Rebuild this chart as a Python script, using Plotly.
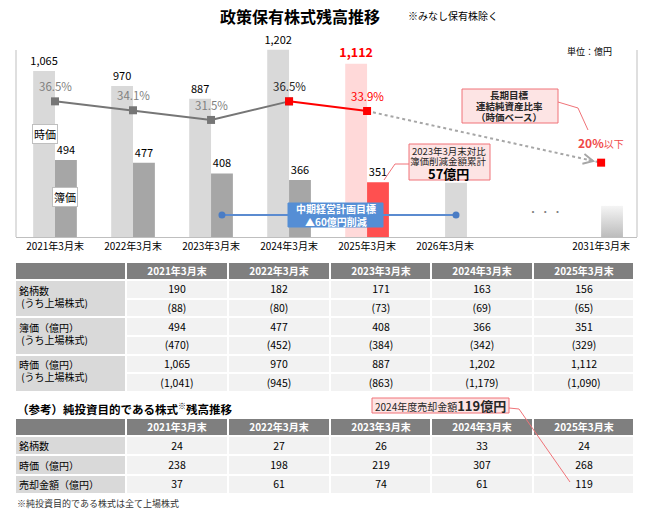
import plotly.graph_objects as go

W, H = 645, 515

# ── chart data ─────────────────────────────────────────────
years = ["2021年3月末", "2022年3月末", "2023年3月末", "2024年3月末", "2025年3月末"]
future_years = ["2026年3月末", "2031年3月末"]
market_value = [1065, 970, 887, 1202, 1112]        # 時価
book_value = [494, 477, 408, 366, 351]             # 簿価
net_asset_ratio = [36.5, 34.1, 31.5, 36.5, 33.9]   # 連結純資産比率（時価）
target_book_2026 = 348
target_book_2031 = 200
target_ratio_2031 = 20

# ── table data ─────────────────────────────────────────────
issues = [190, 182, 171, 163, 156]
issues_listed = [88, 80, 73, 69, 65]
book_listed = [470, 452, 384, 342, 329]
market_listed = [1041, 945, 863, 1179, 1090]
table1_labels = [("銘柄数", " (うち上場株式)"),
                 ("簿価（億円）", " (うち上場株式)"),
                 ("時価（億円）", " (うち上場株式)")]

pure_issues = [24, 27, 26, 33, 24]
pure_market = [238, 198, 219, 307, 268]
pure_sold = [37, 61, 74, 61, 119]
table2_labels = ["銘柄数", "時価（億円）", "売却金額（億円）"]

FONT = "Noto Sans CJK JP, sans-serif"
GRAY_LIGHT = "#d9d9d9"
GRAY_DARK = "#a6a6a6"
RED = "#ff0000"
PINK_FILL = "#fde4e4"
PINK_LINE = "#f07378"
BLUE = "#558ed5"
FRAME = "#bfbfbf"

BAR_W = 0.28
idx = list(range(len(years)))
idx_2026 = 5
idx_2031 = 7
line_level = 141   # height of the mid-term target connector (primary axis units)


def px(x):
    return x / W


def py(y):
    return 1 - y / H


fig = go.Figure()

# 時価 bars
fig.add_trace(go.Bar(
    x=idx, y=market_value, width=BAR_W, offset=-BAR_W,
    marker=dict(color=[GRAY_LIGHT] * 4 + ["#ffd9d9"], line_width=0),
    text=[f"{v:,}" for v in market_value[:-1]] + [f"<b>{market_value[-1]:,}</b>"],
    textposition="outside", constraintext="none",
    textfont=dict(color=["#000"] * 4 + [RED], size=[11] * 4 + [12.5], family=FONT),
    cliponaxis=False, hoverinfo="skip",
))

# 簿価 bars (+ 2026 target)
fig.add_trace(go.Bar(
    x=idx + [idx_2026], y=book_value + [target_book_2026], width=BAR_W, offset=0,
    marker=dict(color=[GRAY_DARK] * 4 + ["#ff5050", GRAY_LIGHT], line_width=0),
    text=[f"{v:,}" for v in book_value] + [""],
    textposition="outside", constraintext="none",
    textfont=dict(color="#000", size=11, family=FONT),
    cliponaxis=False, hoverinfo="skip",
))

# 2031 bar with gradient
fig.add_trace(go.Scatter(
    x=[idx_2031, idx_2031, idx_2031 + BAR_W, idx_2031 + BAR_W],
    y=[0, target_book_2031, target_book_2031, 0],
    mode="lines", line=dict(width=0), fill="toself",
    fillgradient=dict(type="vertical", colorscale=[[0, "#bcbcbc"], [1, "#f5f5f5"]]),
    hoverinfo="skip",
))

# mid-term target connector
fig.add_trace(go.Scatter(
    x=[2 + BAR_W / 2, idx_2026 + BAR_W / 2], y=[line_level, line_level],
    mode="lines+markers", line=dict(color="#5b8bd0", width=2),
    marker=dict(size=7, color="#4a7cc4"), hoverinfo="skip",
))

# ratio line
fig.add_trace(go.Scatter(
    x=[idx[-1], idx_2031], y=[net_asset_ratio[-1], target_ratio_2031], yaxis="y2",
    mode="lines", line=dict(color="#a6a6a6", width=2, dash="dot"), hoverinfo="skip",
))
fig.add_trace(go.Scatter(
    x=idx[:4], y=net_asset_ratio[:4], yaxis="y2",
    mode="lines+markers", line=dict(color="#767676", width=2),
    marker=dict(symbol="square", size=8, color="#767676"), hoverinfo="skip",
))
fig.add_trace(go.Scatter(
    x=idx[3:], y=net_asset_ratio[3:], yaxis="y2",
    mode="lines+markers", line=dict(color=RED, width=2),
    marker=dict(symbol="square", size=8, color=RED), hoverinfo="skip",
))
fig.add_trace(go.Scatter(
    x=[idx_2031], y=[target_ratio_2031], yaxis="y2",
    mode="markers", marker=dict(symbol="square", size=8, color=RED), hoverinfo="skip",
))

# ── tables (cells drawn as single-colour heatmaps) ─────────
col_edges = [0, 111, 213, 315, 416, 518, 619]
header_text = [[""] + [f"<b>{y}</b>" for y in years]]


def cell_block(xa, ya, x_edges, y_edges, text, color, font_color="#000", size=10.5):
    nr, nc = len(y_edges) - 1, len(x_edges) - 1
    fig.add_trace(go.Heatmap(
        x=x_edges, y=y_edges, z=[[0] * nc for _ in range(nr)],
        text=text, texttemplate="%{text}",
        textfont=dict(color=font_color, size=size, family=FONT),
        colorscale=[[0, color], [1, color]], showscale=False,
        xgap=2, ygap=2, hoverinfo="skip", xaxis=xa, yaxis=ya,
    ))


# table 1
rh1 = 112 / 6
t1_rows = [
    [f"{v:,}" for v in issues], [f"({v:,})" for v in issues_listed],
    [f"{v:,}" for v in book_value], [f"({v:,})" for v in book_listed],
    [f"{v:,}" for v in market_value], [f"({v:,})" for v in market_listed],
]
cell_block("x2", "y3", col_edges, [0, 18], header_text, "#7f7f7f", "white", 10)
cell_block("x2", "y3", col_edges[:2], [18 + 2 * k * rh1 for k in range(4)],
           [[""]] * 3, GRAY_LIGHT)
cell_block("x2", "y3", col_edges[1:], [18 + k * rh1 for k in range(7)],
           t1_rows, "#f2f2f2")

# table 2
rh2 = 58 / 3
t2_rows = [[f"{v}" for v in pure_issues], [f"{v}" for v in pure_market],
           [f"{v}" for v in pure_sold]]
cell_block("x3", "y4", col_edges, [0, 18], header_text, "#7f7f7f", "white", 10)
cell_block("x3", "y4", col_edges[:2], [18 + k * rh2 for k in range(4)],
           [[""]] * 3, GRAY_LIGHT)
cell_block("x3", "y4", col_edges[1:], [18 + k * rh2 for k in range(4)],
           t2_rows, "#f2f2f2")

# ── annotations ────────────────────────────────────────────
ann = []
shapes = []


def text_at(x, y, text, size=10, color="#000", xanchor="center", **kw):
    ann.append(dict(x=px(x), y=py(y), xref="paper", yref="paper", text=text,
                    showarrow=False, xanchor=xanchor, yanchor="middle",
                    font=dict(size=size, color=color, family=FONT), **kw))


def box(x0, y0, x1, y1, fill, line=None):
    shapes.append(dict(type="rect", xref="paper", yref="paper",
                       x0=px(x0), x1=px(x1), y0=py(y1), y1=py(y0), fillcolor=fill,
                       line=dict(color=line or fill, width=1), layer="above"))


# chart frame (left / right edges)
for fx in (16, 637):
    shapes.append(dict(type="line", xref="paper", yref="paper", x0=px(fx), x1=px(fx),
                       y0=py(237), y1=py(50), line=dict(color=FRAME, width=1)))

text_at(300, 16, "<b>政策保有株式残高推移</b>", size=16)
text_at(406, 16, "※みなし保有株除く", size=10, xanchor="left")
text_at(614, 51, "単位：億円", size=9, xanchor="right")

# ratio labels
ratio_colors = ["#7f7f7f"] * 3 + ["#262626", RED]
for i, r in enumerate(net_asset_ratio):
    ann.append(dict(x=i, y=r, xref="x", yref="y2", text=f"{r}%", showarrow=False,
                    yshift=15, font=dict(size=11.5, color=ratio_colors[i], family=FONT)))
text_at(601, 143, f"<b>{target_ratio_2031}%</b><span style='font-size:10px'>以下</span>",
        size=12, color="#f04848")

# series tags
text_at(45, 134, "時価", size=11, bgcolor="white", bordercolor=FRAME, borderwidth=1, borderpad=1)
text_at(65, 197, "簿価", size=11, bgcolor="white", bordercolor=FRAME, borderwidth=1, borderpad=1)

text_at(545, 211, "・ ・ ・", size=10, color="#7f7f7f")

# call-out boxes
box(288, 203, 383, 227, BLUE)
text_at(336, 209, "<b>中期経営計画目標</b>", size=10, color="white")
text_at(336, 221, "<b>▲60億円削減</b>", size=10, color="white")

box(409, 144, 490, 180, PINK_FILL, PINK_LINE)
text_at(449, 150.5, "2023年3月末対比", size=9.5, color="#262626")
text_at(449, 160.5, "簿価削減金額累計", size=9.5, color="#262626")
text_at(449, 173, "<b>57億円</b>", size=13, color="#000")

box(462, 89, 558, 123, PINK_FILL, PINK_LINE)
text_at(509, 95, "<b>長期目標</b>", size=9.5, color="#262626")
text_at(509, 106, "<b>連結純資産比率</b>", size=9.5, color="#262626")
text_at(509, 117, "<b>（時価ベース）</b>", size=9.5, color="#262626")

box(372, 398, 509, 413, PINK_FILL, PINK_LINE)
text_at(440, 405.5, "2024年度売却金額<b><span style='font-size:13px'>119億円</span></b>",
        size=10, color="#262626")

# arrow head on the dotted projection
ann.append(dict(x=idx_2031, y=target_ratio_2031, xref="x", yref="y2", text="",
                showarrow=True, ax=-14, ay=-3, arrowhead=5, arrowsize=1.3, arrowwidth=1.5,
                arrowcolor="#a6a6a6", standoff=6))

# table labels
for k, (a, b) in enumerate(table1_labels):
    top = 280 + k * 2 * rh1
    text_at(17, top + 10, a, size=10, xanchor="left")
    text_at(17, top + 22, b, size=10, xanchor="left")
text_at(15, 408, "<b>（参考）純投資目的である株式<sup>※</sup>残高推移</b>", size=11.5, xanchor="left")
for k, lab in enumerate(table2_labels):
    text_at(17, 436 + (k + 0.5) * rh2, lab, size=10, xanchor="left")
text_at(15, 503, "※純投資目的である株式は全て上場株式", size=9, color="#333", xanchor="left")

# connector lines
for path in [
    [(384, 180), (395, 164), (409, 164)],
    [(558, 102), (578, 108), (588, 130)],
    [(509, 408), (519, 409), (570, 482)],
]:
    d = "M " + " L ".join(f"{px(x)},{py(y)}" for x, y in path)
    shapes.append(dict(type="path", path=d, xref="paper", yref="paper",
                       line=dict(color=PINK_LINE, width=1)))

hidden = dict(visible=False, showgrid=False, zeroline=False, fixedrange=True)
fig.update_layout(
    width=W, height=H,
    margin=dict(l=0, r=0, t=0, b=0),
    paper_bgcolor="white", plot_bgcolor="rgba(0,0,0,0)",
    font=dict(family=FONT, size=10, color="#000"),
    barmode="overlay", showlegend=False, hovermode=False,
    xaxis=dict(domain=[px(16), px(637)], range=[-0.5, 7.46],
               tickvals=idx + [idx_2026, idx_2031], ticktext=years + future_years,
               tickfont=dict(size=10), showline=True, linecolor=FRAME,
               showgrid=False, zeroline=False, ticks=""),
    yaxis=dict(domain=[py(237), py(30)], range=[0, 1329], showline=False,
               showticklabels=False, showgrid=False, zeroline=False, ticks=""),
    yaxis2=dict(overlaying="y", range=[0, 55.7], visible=False),
    xaxis2=dict(hidden, domain=[px(15), px(634)], range=[0, 619], anchor="y3"),
    yaxis3=dict(hidden, domain=[py(392), py(262)], range=[130, 0], anchor="x2"),
    xaxis3=dict(hidden, domain=[px(15), px(634)], range=[0, 619], anchor="y4"),
    yaxis4=dict(hidden, domain=[py(494), py(418)], range=[76, 0], anchor="x3"),
    annotations=ann, shapes=shapes,
)

fig.write_html("out.html", config={"displayModeBar": False},
               post_script="document.body.style.margin='0';")
